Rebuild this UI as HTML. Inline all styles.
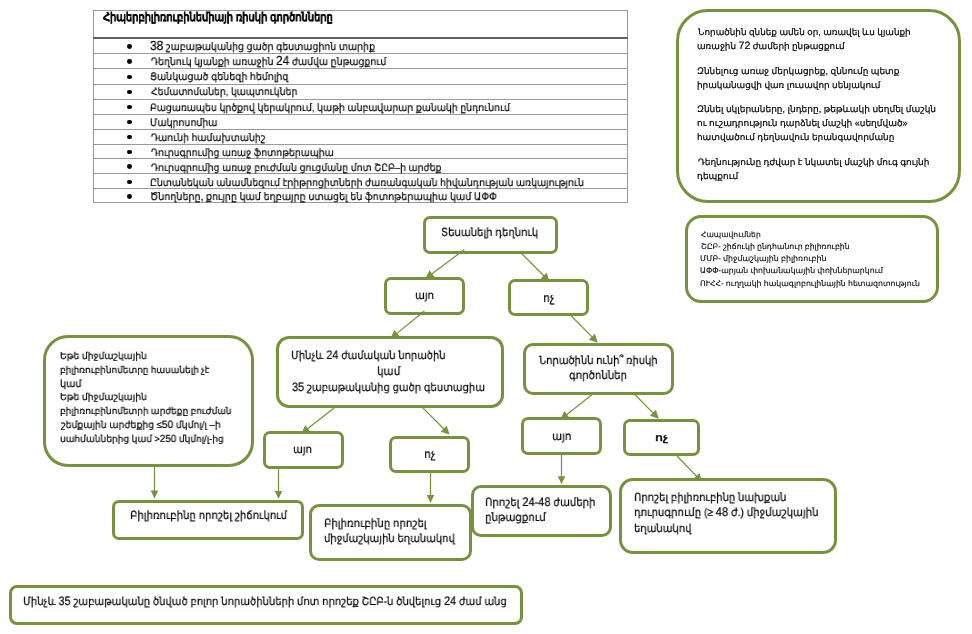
<!DOCTYPE html><html><head><meta charset="utf-8"><style>
html,body{margin:0;padding:0;background:#fff;width:972px;height:634px;overflow:hidden;position:relative;font-family:'Liberation Sans', sans-serif;color:#000}
.t{position:absolute;white-space:nowrap;text-rendering:geometricPrecision;will-change:transform;transform-origin:0 0;-webkit-text-stroke:0.2px #000}
.b{position:absolute;box-sizing:border-box;border:3px solid #76923c;background:#fff}
.tl{position:absolute;background:#999}
</style></head><body>
<div class="tl" style="left:93px;top:10px;width:1px;height:193px"></div>
<div class="tl" style="left:627px;top:10px;width:1px;height:193px"></div>
<div class="tl" style="left:93px;top:10px;width:535px;height:1px"></div>
<div class="tl" style="left:93px;top:37px;width:535px;height:2px;background:#606060"></div>
<div class="tl" style="left:93px;top:53px;width:535px;height:1px"></div>
<div class="tl" style="left:93px;top:68px;width:535px;height:1px"></div>
<div class="tl" style="left:93px;top:84px;width:535px;height:1px"></div>
<div class="tl" style="left:93px;top:99px;width:535px;height:1px"></div>
<div class="tl" style="left:93px;top:114px;width:535px;height:1px"></div>
<div class="tl" style="left:93px;top:129px;width:535px;height:1px"></div>
<div class="tl" style="left:93px;top:144px;width:535px;height:1px"></div>
<div class="tl" style="left:93px;top:158px;width:535px;height:1px"></div>
<div class="tl" style="left:93px;top:173px;width:535px;height:1px"></div>
<div class="tl" style="left:93px;top:188px;width:535px;height:1px"></div>
<div class="tl" style="left:93px;top:202px;width:535px;height:1px"></div>
<div style="position:absolute;left:126.9px;top:44.2px;width:4.8px;height:4.8px;border-radius:50%;background:#000"></div>
<div style="position:absolute;left:126.9px;top:59.35px;width:4.8px;height:4.8px;border-radius:50%;background:#000"></div>
<div style="position:absolute;left:126.9px;top:74.5px;width:4.8px;height:4.8px;border-radius:50%;background:#000"></div>
<div style="position:absolute;left:126.9px;top:89.64999999999999px;width:4.8px;height:4.8px;border-radius:50%;background:#000"></div>
<div style="position:absolute;left:126.9px;top:104.64999999999999px;width:4.8px;height:4.8px;border-radius:50%;background:#000"></div>
<div style="position:absolute;left:126.9px;top:119.64999999999999px;width:4.8px;height:4.8px;border-radius:50%;background:#000"></div>
<div style="position:absolute;left:126.9px;top:134.7px;width:4.8px;height:4.8px;border-radius:50%;background:#000"></div>
<div style="position:absolute;left:126.9px;top:149.6px;width:4.8px;height:4.8px;border-radius:50%;background:#000"></div>
<div style="position:absolute;left:126.9px;top:164.45000000000002px;width:4.8px;height:4.8px;border-radius:50%;background:#000"></div>
<div style="position:absolute;left:126.9px;top:179.5px;width:4.8px;height:4.8px;border-radius:50%;background:#000"></div>
<div style="position:absolute;left:126.9px;top:193.85px;width:4.8px;height:4.8px;border-radius:50%;background:#000"></div>
<svg width="972" height="634" style="position:absolute;left:0;top:0"><polygon points="425.30,278.60 429.54,270.22 434.55,276.97" fill="#76923c"/><polygon points="549.60,281.60 540.70,278.60 546.66,272.68" fill="#76923c"/><polygon points="390.50,338.60 394.38,330.05 399.67,336.57" fill="#76923c"/><polygon points="597.80,342.80 588.91,339.78 594.88,333.87" fill="#76923c"/><polygon points="301.20,433.70 305.22,425.21 310.40,431.82" fill="#76923c"/><polygon points="449.60,434.60 440.69,431.63 446.63,425.69" fill="#76923c"/><polygon points="560.30,419.60 564.33,411.12 569.50,417.73" fill="#76923c"/><polygon points="658.80,418.80 649.91,415.77 655.89,409.87" fill="#76923c"/><polygon points="702.20,482.00 693.34,478.89 699.37,473.05" fill="#76923c"/><polygon points="154.50,498.40 150.70,490.60 158.30,490.60" fill="#76923c"/><polygon points="278.50,498.80 274.70,491.00 282.30,491.00" fill="#76923c"/><polygon points="430.50,502.90 426.70,495.10 434.30,495.10" fill="#76923c"/><polygon points="561.50,484.10 557.70,476.30 565.30,476.30" fill="#76923c"/></svg>
<div class="b" style="left:676px;top:9px;width:285.0px;height:194.0px;border-radius:32px"></div>
<div class="b" style="left:685px;top:215px;width:254.0px;height:88.0px;border-radius:16px"></div>
<div class="b" style="left:423px;top:216px;width:135.0px;height:38.0px;border-radius:7px"></div>
<div class="b" style="left:384px;top:277px;width:81.0px;height:38.0px;border-radius:7px"></div>
<div class="b" style="left:508px;top:279px;width:81.0px;height:37.0px;border-radius:7px"></div>
<div class="b" style="left:276px;top:336px;width:228.0px;height:72.0px;border-radius:13px"></div>
<div class="b" style="left:263px;top:431px;width:81.0px;height:38.0px;border-radius:7px"></div>
<div class="b" style="left:389px;top:436px;width:81.0px;height:37.0px;border-radius:7px"></div>
<div class="b" style="left:523px;top:343px;width:151.0px;height:52.0px;border-radius:10px"></div>
<div class="b" style="left:521px;top:417px;width:81.0px;height:38.0px;border-radius:7px"></div>
<div class="b" style="left:623px;top:419px;width:77.0px;height:37.0px;border-radius:7px"></div>
<div class="b" style="left:43px;top:335px;width:211.0px;height:132.0px;border-radius:25px"></div>
<div class="b" style="left:112px;top:500px;width:192.0px;height:40.0px;border-radius:7px"></div>
<div class="b" style="left:309px;top:504px;width:163.0px;height:57.0px;border-radius:10px"></div>
<div class="b" style="left:471px;top:485px;width:141.0px;height:52.0px;border-radius:10px"></div>
<div class="b" style="left:619px;top:478px;width:218.0px;height:76.0px;border-radius:14px"></div>
<div class="b" style="left:9px;top:585px;width:514.0px;height:40.0px;border-radius:8px"></div>
<svg width="972" height="634" style="position:absolute;left:0;top:0"><line x1="464.40" y1="249.60" x2="431.65" y2="273.89" stroke="#76923c" stroke-width="1.25"/><line x1="521.60" y1="253.40" x2="544.03" y2="275.99" stroke="#76923c" stroke-width="1.25"/><line x1="424.40" y1="311.10" x2="396.64" y2="333.62" stroke="#76923c" stroke-width="1.25"/><line x1="571.00" y1="315.70" x2="592.25" y2="337.18" stroke="#76923c" stroke-width="1.25"/><line x1="334.10" y1="407.90" x2="307.42" y2="428.83" stroke="#76923c" stroke-width="1.25"/><line x1="422.90" y1="407.90" x2="444.01" y2="429.01" stroke="#76923c" stroke-width="1.25"/><line x1="591.60" y1="395.10" x2="566.52" y2="414.73" stroke="#76923c" stroke-width="1.25"/><line x1="634.80" y1="394.50" x2="653.25" y2="413.18" stroke="#76923c" stroke-width="1.25"/><line x1="677.00" y1="456.00" x2="696.70" y2="476.33" stroke="#76923c" stroke-width="1.25"/><line x1="154.50" y1="466.00" x2="154.50" y2="491.10" stroke="#76923c" stroke-width="1.25"/><line x1="278.50" y1="467.00" x2="278.50" y2="491.50" stroke="#76923c" stroke-width="1.25"/><line x1="430.50" y1="471.00" x2="430.50" y2="495.60" stroke="#76923c" stroke-width="1.25"/><line x1="561.50" y1="453.00" x2="561.50" y2="476.80" stroke="#76923c" stroke-width="1.25"/></svg>
<div class="t" id="t0" style="left:103.21px;top:12.25px;font-size:11.860px;line-height:11.860px;font-weight:bold;-webkit-text-stroke:0.3px #000;transform:scaleX(0.8333)">Հիպերբիլիռուբինեմիայի ռիսկի գործոնները<span class="bm" style="display:inline-block;width:0;height:0;vertical-align:baseline"></span></div>
<div class="t" id="t1" style="left:150.45px;top:41.14px;font-size:10.342px;line-height:10.342px;font-weight:normal;transform:scaleX(0.9091)"><span style="font-size:1.280em">38</span> շաբաթականից ցածր գեստացիոն տարիք<span class="bm" style="display:inline-block;width:0;height:0;vertical-align:baseline"></span></div>
<div class="t" id="t2" style="left:151.42px;top:56.21px;font-size:10.270px;line-height:10.270px;font-weight:normal;transform:scaleX(0.9091)">Դեղնուկ կյանքի առաջին <span style="font-size:1.280em">24</span> ժամվա ընթացքում<span class="bm" style="display:inline-block;width:0;height:0;vertical-align:baseline"></span></div>
<div class="t" id="t3" style="left:150.44px;top:73.35px;font-size:10.406px;line-height:10.406px;font-weight:normal;transform:scaleX(0.9091)">Ցանկացած գենեզի հեմոլիզ<span class="bm" style="display:inline-block;width:0;height:0;vertical-align:baseline"></span></div>
<div class="t" id="t4" style="left:151.46px;top:88.40px;font-size:10.204px;line-height:10.204px;font-weight:normal;transform:scaleX(0.9091)">Հեմատոմաներ, կապտուկներ<span class="bm" style="display:inline-block;width:0;height:0;vertical-align:baseline"></span></div>
<div class="t" id="t5" style="left:150.46px;top:103.61px;font-size:10.260px;line-height:10.260px;font-weight:normal;transform:scaleX(0.9091)">Բացառապես կրծքով կերակրում, կաթի անբավարար քանակի ընդունում<span class="bm" style="display:inline-block;width:0;height:0;vertical-align:baseline"></span></div>
<div class="t" id="t6" style="left:150.45px;top:118.73px;font-size:10.349px;line-height:10.349px;font-weight:normal;transform:scaleX(0.9091)">Մակրոսոմիա<span class="bm" style="display:inline-block;width:0;height:0;vertical-align:baseline"></span></div>
<div class="t" id="t7" style="left:151.42px;top:133.71px;font-size:10.274px;line-height:10.274px;font-weight:normal;transform:scaleX(0.9091)">Դաունի համախտանիշ<span class="bm" style="display:inline-block;width:0;height:0;vertical-align:baseline"></span></div>
<div class="t" id="t8" style="left:151.43px;top:148.70px;font-size:10.221px;line-height:10.221px;font-weight:normal;transform:scaleX(0.9091)">Դուրսգրումից առաջ ֆոտոթերապիա<span class="bm" style="display:inline-block;width:0;height:0;vertical-align:baseline"></span></div>
<div class="t" id="t9" style="left:151.41px;top:163.71px;font-size:10.265px;line-height:10.265px;font-weight:normal;transform:scaleX(0.9091)">Դուրսգրումից առաջ բուժման ցուցմանը մոտ ՇԸԲ–ի արժեք<span class="bm" style="display:inline-block;width:0;height:0;vertical-align:baseline"></span></div>
<div class="t" id="t10" style="left:150.45px;top:178.71px;font-size:10.275px;line-height:10.275px;font-weight:normal;transform:scaleX(0.9091)">Ընտանեկան անամնեզում էրիթրոցիտների ժառանգական հիվանդության առկայություն<span class="bm" style="display:inline-block;width:0;height:0;vertical-align:baseline"></span></div>
<div class="t" id="t11" style="left:150.44px;top:191.77px;font-size:10.505px;line-height:10.505px;font-weight:normal;transform:scaleX(0.9091)">Ծնողները, քույրը կամ եղբայրը ստացել են ֆոտոթերապիա կամ ԱՓՓ<span class="bm" style="display:inline-block;width:0;height:0;vertical-align:baseline"></span></div>
<div class="t" id="b1" style="left:698.29px;top:28.43px;font-size:8.849px;line-height:8.849px;font-weight:normal">Նորածնին զննեք ամեն օր, առավել ևս կյանքի<span class="bm" style="display:inline-block;width:0;height:0;vertical-align:baseline"></span></div>
<div class="t" id="b2" style="left:697.29px;top:42.43px;font-size:8.848px;line-height:8.848px;font-weight:normal">առաջին <span style="font-size:1.200em">72</span> ժամերի ընթացքում<span class="bm" style="display:inline-block;width:0;height:0;vertical-align:baseline"></span></div>
<div class="t" id="b3" style="left:697.28px;top:67.34px;font-size:8.930px;line-height:8.930px;font-weight:normal">Զննելուց առաջ մերկացրեք, զննումը պետք<span class="bm" style="display:inline-block;width:0;height:0;vertical-align:baseline"></span></div>
<div class="t" id="b4" style="left:697.29px;top:80.71px;font-size:8.848px;line-height:8.848px;font-weight:normal">իրականացվի վառ լուսավոր սենյակում<span class="bm" style="display:inline-block;width:0;height:0;vertical-align:baseline"></span></div>
<div class="t" id="b5" style="left:697.27px;top:104.85px;font-size:8.971px;line-height:8.971px;font-weight:normal">Զննել սկլերաները, լնդերը, թեթևակի սեղմել մաշկն<span class="bm" style="display:inline-block;width:0;height:0;vertical-align:baseline"></span></div>
<div class="t" id="b6" style="left:697.28px;top:119.06px;font-size:8.980px;line-height:8.980px;font-weight:normal">ու ուշադրություն դարձնել մաշկի «սեղմված»<span class="bm" style="display:inline-block;width:0;height:0;vertical-align:baseline"></span></div>
<div class="t" id="b7" style="left:697.29px;top:133.44px;font-size:8.889px;line-height:8.889px;font-weight:normal">հատվածում դեղնավուն երանգավորմանը<span class="bm" style="display:inline-block;width:0;height:0;vertical-align:baseline"></span></div>
<div class="t" id="b8" style="left:698.29px;top:157.85px;font-size:8.931px;line-height:8.931px;font-weight:normal">Դեղնությունը դժվար է նկատել մաշկի մուգ գույնի<span class="bm" style="display:inline-block;width:0;height:0;vertical-align:baseline"></span></div>
<div class="t" id="b9" style="left:697.27px;top:171.95px;font-size:8.960px;line-height:8.960px;font-weight:normal">դեպքում<span class="bm" style="display:inline-block;width:0;height:0;vertical-align:baseline"></span></div>
<div class="t" id="a1" style="left:701.39px;top:230.57px;font-size:7.581px;line-height:7.581px;font-weight:normal;-webkit-text-stroke:0.1px #000">Հապավումներ<span class="bm" style="display:inline-block;width:0;height:0;vertical-align:baseline"></span></div>
<div class="t" id="a2" style="left:701.37px;top:242.64px;font-size:7.778px;line-height:7.778px;font-weight:normal;-webkit-text-stroke:0.1px #000">ՇԸԲ- շիճուկի ընդհանուր բիլիռուբին<span class="bm" style="display:inline-block;width:0;height:0;vertical-align:baseline"></span></div>
<div class="t" id="a3" style="left:700.37px;top:254.66px;font-size:7.885px;line-height:7.885px;font-weight:normal;-webkit-text-stroke:0.1px #000">ՄՄԲ- միջմաշկային բիլիռուբին<span class="bm" style="display:inline-block;width:0;height:0;vertical-align:baseline"></span></div>
<div class="t" id="a4" style="left:700.37px;top:266.64px;font-size:7.790px;line-height:7.790px;font-weight:normal;-webkit-text-stroke:0.1px #000">ԱՓՓ-արյան փոխանակային փոխներարկում<span class="bm" style="display:inline-block;width:0;height:0;vertical-align:baseline"></span></div>
<div class="t" id="a5" style="left:700.38px;top:279.64px;font-size:7.811px;line-height:7.811px;font-weight:normal;-webkit-text-stroke:0.1px #000">ՈՒՀՀ- ուղղակի հակագլոբուլինային հետազոտություն<span class="bm" style="display:inline-block;width:0;height:0;vertical-align:baseline"></span></div>
<div class="t" id="e1" style="left:60.47px;top:351.71px;font-size:9.567px;line-height:9.567px;font-weight:normal;transform:scaleX(0.9615)">Եթե միջմաշկային<span class="bm" style="display:inline-block;width:0;height:0;vertical-align:baseline"></span></div>
<div class="t" id="e2" style="left:60.49px;top:365.55px;font-size:9.264px;line-height:9.264px;font-weight:normal;transform:scaleX(0.9615)">բիլիռուբինոմետրը հասանելի չէ<span class="bm" style="display:inline-block;width:0;height:0;vertical-align:baseline"></span></div>
<div class="t" id="e3" style="left:60.46px;top:379.55px;font-size:10.014px;line-height:10.014px;font-weight:normal;transform:scaleX(0.9615)">կամ<span class="bm" style="display:inline-block;width:0;height:0;vertical-align:baseline"></span></div>
<div class="t" id="e4" style="left:60.47px;top:393.33px;font-size:9.567px;line-height:9.567px;font-weight:normal;transform:scaleX(0.9615)">Եթե միջմաշկային<span class="bm" style="display:inline-block;width:0;height:0;vertical-align:baseline"></span></div>
<div class="t" id="e5" style="left:60.49px;top:407.14px;font-size:9.273px;line-height:9.273px;font-weight:normal;transform:scaleX(0.9615)">բիլիռուբինոմետրի արժեքը բուժման<span class="bm" style="display:inline-block;width:0;height:0;vertical-align:baseline"></span></div>
<div class="t" id="e6" style="left:61.45px;top:421.46px;font-size:9.693px;line-height:9.693px;font-weight:normal;transform:scaleX(0.9615)">շեմքային արժեքից ≤<span style="font-size:1.100em">50</span> մկմոլ/լ –ի<span class="bm" style="display:inline-block;width:0;height:0;vertical-align:baseline"></span></div>
<div class="t" id="e7" style="left:60.47px;top:434.28px;font-size:9.412px;line-height:9.412px;font-weight:normal;transform:scaleX(0.9615)">սահմաններից կամ ><span style="font-size:1.100em">250</span> մկմոլ/լ-ից<span class="bm" style="display:inline-block;width:0;height:0;vertical-align:baseline"></span></div>
<div class="t" id="f0" style="left:440.98px;top:228.19px;font-size:11.287px;line-height:11.287px;font-weight:normal;transform:scaleX(0.8929)">Տեսանելի դեղնուկ<span class="bm" style="display:inline-block;width:0;height:0;vertical-align:baseline"></span></div>
<div class="t" id="f1" style="left:415.40px;top:291.49px;font-size:11.305px;line-height:11.305px;font-weight:normal;transform:scaleX(0.8929)">այո<span class="bm" style="display:inline-block;width:0;height:0;vertical-align:baseline"></span></div>
<div class="t" id="f2" style="left:543.12px;top:291.75px;font-size:12.265px;line-height:12.265px;font-weight:normal;transform:scaleX(0.8929)">ոչ<span class="bm" style="display:inline-block;width:0;height:0;vertical-align:baseline"></span></div>
<div class="t" id="f3" style="left:290.80px;top:349.93px;font-size:11.123px;line-height:11.123px;font-weight:normal;transform:scaleX(0.8929)">Մինչև <span style="font-size:1.100em">24</span> ժամական նորածին<span class="bm" style="display:inline-block;width:0;height:0;vertical-align:baseline"></span></div>
<div class="t" id="f4" style="left:377.42px;top:365.68px;font-size:11.623px;line-height:11.623px;font-weight:normal;transform:scaleX(0.8929)">կամ<span class="bm" style="display:inline-block;width:0;height:0;vertical-align:baseline"></span></div>
<div class="t" id="f5" style="left:291.80px;top:381.56px;font-size:11.180px;line-height:11.180px;font-weight:normal;transform:scaleX(0.8929)"><span style="font-size:1.100em">35</span> շաբաթականից ցածր գեստացիա<span class="bm" style="display:inline-block;width:0;height:0;vertical-align:baseline"></span></div>
<div class="t" id="f6" style="left:292.76px;top:445.20px;font-size:11.305px;line-height:11.305px;font-weight:normal;transform:scaleX(0.8929)">այո<span class="bm" style="display:inline-block;width:0;height:0;vertical-align:baseline"></span></div>
<div class="t" id="f7" style="left:424.48px;top:448.42px;font-size:12.137px;line-height:12.137px;font-weight:normal;transform:scaleX(0.8929)">ոչ<span class="bm" style="display:inline-block;width:0;height:0;vertical-align:baseline"></span></div>
<div class="t" id="f8" style="left:538.61px;top:355.94px;font-size:11.103px;line-height:11.103px;font-weight:normal;transform:scaleX(0.8929)">Նորածինն ունի՞ ռիսկի<span class="bm" style="display:inline-block;width:0;height:0;vertical-align:baseline"></span></div>
<div class="t" id="f9" style="left:569.18px;top:370.91px;font-size:11.391px;line-height:11.391px;font-weight:normal;transform:scaleX(0.8929)">գործոններ<span class="bm" style="display:inline-block;width:0;height:0;vertical-align:baseline"></span></div>
<div class="t" id="f10" style="left:551.80px;top:431.57px;font-size:11.561px;line-height:11.561px;font-weight:normal;transform:scaleX(0.8929)">այո<span class="bm" style="display:inline-block;width:0;height:0;vertical-align:baseline"></span></div>
<div class="t" id="f11" style="left:654.85px;top:434.17px;font-size:10.092px;line-height:10.092px;font-weight:normal;font-family:'Liberation Serif',serif;-webkit-text-stroke:0.45px #000;transform:scaleX(1.2500)">ոչ<span class="bm" style="display:inline-block;width:0;height:0;vertical-align:baseline"></span></div>
<div class="t" id="f12" style="left:129.79px;top:510.59px;font-size:11.326px;line-height:11.326px;font-weight:normal;transform:scaleX(0.8929)">Բիլիռուբինը որոշել շիճուկում<span class="bm" style="display:inline-block;width:0;height:0;vertical-align:baseline"></span></div>
<div class="t" id="f13" style="left:323.58px;top:518.62px;font-size:11.383px;line-height:11.383px;font-weight:normal;transform:scaleX(0.8929)">Բիլիռուբինը որոշել<span class="bm" style="display:inline-block;width:0;height:0;vertical-align:baseline"></span></div>
<div class="t" id="f14" style="left:323.59px;top:533.65px;font-size:11.186px;line-height:11.186px;font-weight:normal;transform:scaleX(0.8929)">միջմաշկային եղանակով<span class="bm" style="display:inline-block;width:0;height:0;vertical-align:baseline"></span></div>
<div class="t" id="f15" style="left:485.19px;top:497.31px;font-size:11.358px;line-height:11.358px;font-weight:normal;transform:scaleX(0.8929)">Որոշել <span style="font-size:1.100em">24</span>-<span style="font-size:1.100em">48</span> ժամերի<span class="bm" style="display:inline-block;width:0;height:0;vertical-align:baseline"></span></div>
<div class="t" id="f16" style="left:485.18px;top:513.12px;font-size:11.413px;line-height:11.413px;font-weight:normal;transform:scaleX(0.8929)">ընթացքում<span class="bm" style="display:inline-block;width:0;height:0;vertical-align:baseline"></span></div>
<div class="t" id="f17" style="left:634.40px;top:493.07px;font-size:11.232px;line-height:11.232px;font-weight:normal;transform:scaleX(0.8929)">Որոշել բիլիռուբինը նախքան<span class="bm" style="display:inline-block;width:0;height:0;vertical-align:baseline"></span></div>
<div class="t" id="f18" style="left:634.39px;top:506.71px;font-size:11.362px;line-height:11.362px;font-weight:normal;transform:scaleX(0.8929)">դուրսգրումը (≥ <span style="font-size:1.100em">48</span> ժ.) միջմաշկային<span class="bm" style="display:inline-block;width:0;height:0;vertical-align:baseline"></span></div>
<div class="t" id="f19" style="left:634.40px;top:524.35px;font-size:11.197px;line-height:11.197px;font-weight:normal;transform:scaleX(0.8929)">եղանակով<span class="bm" style="display:inline-block;width:0;height:0;vertical-align:baseline"></span></div>
<div class="t" id="f20" style="left:23.20px;top:595.57px;font-size:11.192px;line-height:11.192px;font-weight:normal;transform:scaleX(0.8929)">Մինչև <span style="font-size:1.100em">35</span> շաբաթականը ծնված բոլոր նորածինների մոտ որոշեք ՇԸԲ-ն ծնվելուց <span style="font-size:1.100em">24</span> ժամ անց<span class="bm" style="display:inline-block;width:0;height:0;vertical-align:baseline"></span></div>
</body></html>
